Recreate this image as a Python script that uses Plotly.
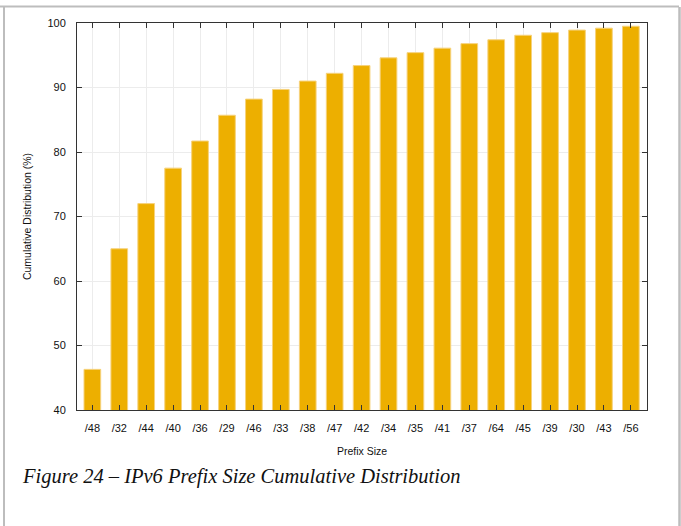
import plotly.graph_objects as go

categories = ["/48", "/32", "/44", "/40", "/36", "/29", "/46", "/33", "/38", "/47", "/42",
              "/34", "/35", "/41", "/37", "/64", "/45", "/39", "/30", "/43", "/56"]
values = [46.3, 65.0, 72.0, 77.5, 81.7, 85.7, 88.2, 89.7, 91.0, 92.2, 93.4,
          94.6, 95.4, 96.1, 96.8, 97.4, 98.1, 98.5, 98.9, 99.2, 99.5]
y_ticks = [40, 50, 60, 70, 80, 90, 100]

W, H = 681, 526
L, R, T, B = 77, 647, 23, 410

def px(x):
    return (x - L) / (R - L)

def py(y):
    return (B - y) / (B - T)

fig = go.Figure(go.Bar(
    x=list(range(len(categories))),
    y=values,
    marker=dict(color="#EDAF00", line=dict(color="#F6D27C", width=1)),
    width=0.62,
    hoverinfo="x+y",
))

axis_common = dict(
    showline=True, linecolor="#333333", linewidth=1, mirror="ticks",
    ticks="inside", ticklen=5, tickcolor="#333333", tickwidth=1,
    showgrid=True, gridcolor="#ececec", gridwidth=1, zeroline=False,
    tickfont=dict(family="Liberation Sans, Arial, sans-serif", size=11, color="#111"),
)

fig.update_layout(
    width=W, height=H,
    margin=dict(l=L, r=W - R, t=T, b=H - B),
    paper_bgcolor="white", plot_bgcolor="white",
    showlegend=False,
    xaxis=dict(
        **axis_common,
        tickmode="array",
        tickvals=list(range(len(categories))),
        ticktext=categories,
        range=[-0.57, 20.6],
        ticklabelstandoff=8,
        title=dict(text="Prefix Size", font=dict(family="Liberation Sans, Arial, sans-serif", size=10.5, color="#111"), standoff=14),
    ),
    yaxis=dict(
        **axis_common,
        tickmode="array",
        tickvals=y_ticks,
        range=[40, 100],
        ticklabelstandoff=8,
        title=dict(text="Cumulative Distribution (%)", font=dict(family="Liberation Sans, Arial, sans-serif", size=10.5, color="#111"), standoff=13),
    ),
    font=dict(family="Liberation Sans, Arial, sans-serif"),
)

# Page border lines
border = "#bdbdbd"
fig.add_shape(type="line", xref="paper", yref="paper",
              x0=px(0), x1=px(679), y0=py(6.5), y1=py(6.5),
              line=dict(color=border, width=2), layer="below")
fig.add_shape(type="line", xref="paper", yref="paper",
              x0=px(4), x1=px(4), y0=py(7), y1=py(530),
              line=dict(color=border, width=2), layer="below")
fig.add_shape(type="line", xref="paper", yref="paper",
              x0=px(679.5), x1=px(679.5), y0=py(7), y1=py(530),
              line=dict(color=border, width=2.5), layer="below")

# Caption
fig.add_annotation(
    xref="paper", yref="paper", x=px(20), y=py(476),
    xanchor="left", yanchor="middle", showarrow=False,
    text="<i>Figure 24 – IPv6 Prefix Size Cumulative Distribution</i>",
    font=dict(family="Liberation Serif, Times New Roman, serif", size=20.5, color="#111"),
)

fig.write_html("out.html", config={"displayModeBar": False},
               post_script="document.body.style.margin='0';")
